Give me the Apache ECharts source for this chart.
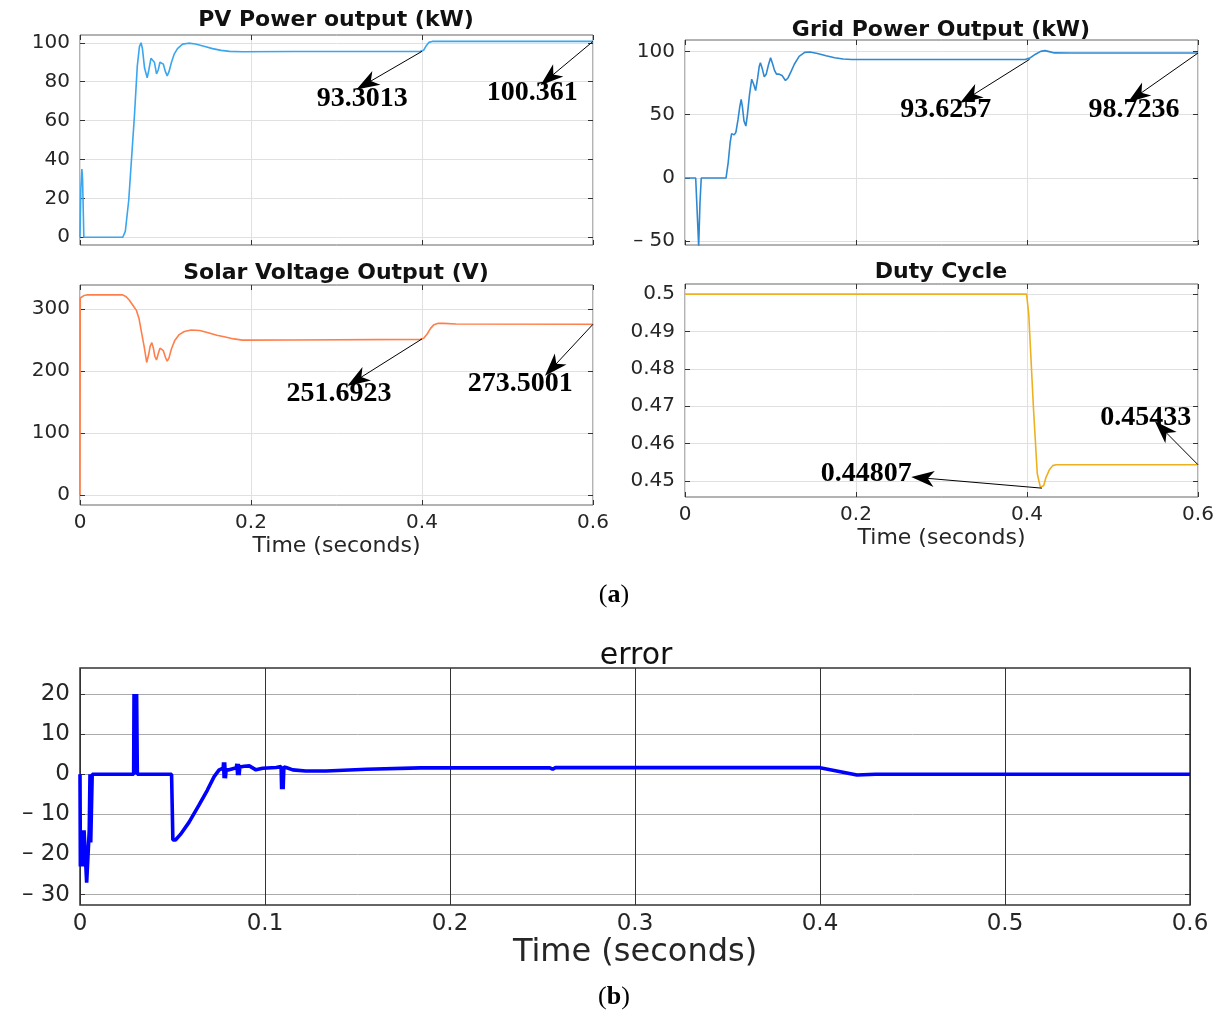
<!DOCTYPE html>
<html><head><meta charset="utf-8">
<script src="https://cdn.jsdelivr.net/npm/echarts@6/dist/echarts.min.js"></script>
<style>html,body{margin:0;padding:0;background:#fff}#c{width:1226px;height:1015px}</style>
</head><body><div id="c"></div>
<script>
// ---------- DATA ----------
const xTicks = [0, 0.2, 0.4, 0.6];
const errXTicks = [0, 0.1, 0.2, 0.3, 0.4, 0.5, 0.6];
const pvYTicks = [0, 20, 40, 60, 80, 100];
const gridYTicks = [-50, 0, 50, 100];
const voltYTicks = [0, 100, 200, 300];
const dutyYTicks = [0.45, 0.46, 0.47, 0.48, 0.49, 0.5];
const errYTicks = [-30, -20, -10, 0, 10, 20];

const titles = ['PV Power output (kW)', 'Grid Power Output (kW)', 'Solar Voltage Output (V)', 'Duty Cycle', 'error'];
const xName = 'Time (seconds)';

const pvTime  = [0,0.001,0.0022,0.003,0.0045,0.05,0.053,0.057,0.0636,0.067,0.0695,0.0714,0.073,0.0755,0.0786,0.0805,0.083,0.085,0.087,0.0895,0.0915,0.0935,0.0955,0.0975,0.1,0.102,0.104,0.107,0.11,0.114,0.12,0.127,0.135,0.145,0.155,0.165,0.175,0.19,0.25,0.398,0.402,0.405,0.408,0.412,0.6];
const pvPower = [0,25,35,30,0,0,3,19,62,88,98,100,97,87,82,86,92,93,90,84,86,90,91,89,85,83,85,90,94,97,99.3,99.8,99.4,98.2,97,96.1,95.6,95.4,95.5,95.6,96.2,98.5,100.2,100.7,100.7];

const gridTime  = [0,0.0125,0.016,0.0175,0.019,0.048,0.0505,0.0528,0.0545,0.0555,0.0575,0.0595,0.062,0.064,0.0657,0.0672,0.069,0.0712,0.073,0.0755,0.078,0.0803,0.0826,0.085,0.0868,0.0882,0.0905,0.0927,0.095,0.0975,0.1001,0.1025,0.1047,0.107,0.1102,0.1135,0.1175,0.1205,0.124,0.128,0.1335,0.14,0.146,0.155,0.165,0.175,0.185,0.195,0.398,0.404,0.41,0.416,0.421,0.426,0.432,0.45,0.6];
const gridPower = [0,0,-54,-20,0,0,12,28,35,36.5,34,36,46,56,62,56,45,41,50,66,78,74,69,79,88,91,86,80,82,89,95,90,85,82,82,81,77,79,84,90,96,99.2,99.5,98.3,96.5,95,94,93.6,93.6,95,97.8,100,100.6,99.8,98.8,98.7,98.7];

const voltTime  = [0,0.0003,0.0015,0.0025,0.0045,0.008,0.05,0.054,0.058,0.062,0.066,0.069,0.072,0.075,0.078,0.0805,0.082,0.084,0.086,0.0875,0.0895,0.0915,0.0935,0.0955,0.0975,0.1,0.102,0.104,0.107,0.111,0.116,0.122,0.13,0.14,0.15,0.16,0.17,0.18,0.19,0.25,0.398,0.402,0.406,0.41,0.414,0.419,0.425,0.44,0.6];
const voltValue = [0,318,320,315,322,323,323,320,314,306,298,285,262,240,214,228,240,246,236,224,218,228,237,240,233,222,216,221,236,250,259,264,266.5,265.5,262,258,255,252,250,250.3,251.3,253,260,269,275,277.3,277,276,275.7];

const dutyTime  = [0,0.3995,0.402,0.4077,0.412,0.4155,0.4175,0.4195,0.422,0.426,0.43,0.434,0.6];
const dutyValue = [0.5,0.5,0.4948,0.4689,0.452,0.4484,0.44807,0.4487,0.4508,0.4529,0.4541,0.45433,0.45433];

const errTime  = [0,0.0002,0.0006,0.001,0.0014,0.0018,0.0022,0.0032,0.0036,0.0042,0.0046,0.005,0.0054,0.0058,0.0062,0.0066,0.029,0.0292,0.0296,0.0299,0.0303,0.0306,0.031,0.0495,0.0502,0.0516,0.0543,0.0589,0.0643,0.0688,0.0725,0.0752,0.0774,0.0776,0.0779,0.0782,0.0786,0.079,0.0806,0.0845,0.0848,0.0852,0.0856,0.086,0.0864,0.0888,0.0915,0.0951,0.0987,0.106,0.1087,0.109,0.1094,0.1098,0.1102,0.1114,0.115,0.122,0.133,0.155,0.184,0.2,0.254,0.2555,0.257,0.4,0.42,0.43,0.6];
const errValue = [0,-23,-14,-23,-14,-23,-14,-14,-27,-27,-27,-14,0,-17,-17,0,0,20,0,20,0,20,0,0,-16.4,-16.4,-15,-12,-7.7,-4,-0.6,1.1,1.5,3,-1,3,-1,1.2,1.1,1.6,2.6,-0.2,2.6,-0.2,1.8,2,2.1,1.1,1.5,1.7,1.9,-3.7,1.9,-3.7,1.8,1.7,1.1,0.8,0.8,1.25,1.6,1.6,1.6,1.25,1.65,1.65,-0.17,0,0];

// annotations: [fromT, fromV, toT, toV]
const pvArrows   = [[0.4, 95.6, 0.335, 79], [0.6, 100.7, 0.549, 82]];
const pvLabels   = [[0.33, 71, '93.3013'], [0.529, 74.5, '100.361']];
const gridArrows = [[0.403, 93.7, 0.333, 64], [0.6, 98.7, 0.529, 65]];
const gridLabels = [[0.305, 53.5, '93.6257'], [0.525, 53.5, '98.7236']];
const voltArrows = [[0.4, 252, 0.324, 186], [0.6, 275.7, 0.553, 206]];
const voltLabels = [[0.303, 164, '251.6923'], [0.515, 179, '273.5001']];
const dutyArrows = [[0.4175, 0.44807, 0.278, 0.4508], [0.6, 0.45433, 0.559, 0.4638]];
const dutyLabels = [[0.212, 0.4519, '0.44807'], [0.539, 0.4668, '0.45433']];

// ---------- CHART ----------
const zip = (t, v) => t.map((x, i) => [x, v[i]]);
const fmtNum = v => v < 0 ? '\u2013 ' + Math.abs(v) : String(+v.toFixed(2));
const SANS = 'DejaVu Sans';
const SERIF = 'Liberation Serif';

const gridsPos = [
  {left: 80, top: 35, width: 513, height: 210},
  {left: 685, top: 40, width: 513, height: 205},
  {left: 80, top: 285, width: 513, height: 220},
  {left: 685, top: 284, width: 513, height: 213},
  {left: 80, top: 668, width: 1110, height: 237}
];
const yRanges = [[-4, 104], [-53, 109], [-16, 339], [0.4457, 0.5027], [-32.6, 26.5]];
const yTickSets = [pvYTicks, gridYTicks, voltYTicks, dutyYTicks, errYTicks];

const grid = gridsPos.map((g, i) => Object.assign({show: true, borderColor: i === 4 ? '#333' : '#666', borderWidth: i === 4 ? 1.5 : 1, backgroundColor: '#fff'}, g));

const xAxis = [], yAxis = [];
for (let i = 0; i < 5; i++) {
  const isErr = i === 4;
  const showLab = i >= 2;
  xAxis.push({
    type: 'value', gridIndex: i, min: 0, max: 0.6, interval: isErr ? 0.1 : 0.2,
    axisLine: {show: false, onZero: false},
    axisTick: {show: true, inside: true, length: 5, lineStyle: {color: '#333'}},
    axisLabel: {show: showLab, formatter: v => String(+v.toFixed(1)), fontFamily: SANS, fontSize: isErr ? 23 : 20, color: '#262626', margin: 8},
    splitLine: {show: true, lineStyle: {color: isErr ? '#333' : '#e0e0e0', width: 1}},
    name: showLab ? xName : '', nameLocation: 'middle', nameGap: isErr ? 31 : 30,
    nameTextStyle: {fontFamily: SANS, fontSize: isErr ? 32 : 22, color: '#262626'}
  });
  yAxis.push({
    type: 'value', gridIndex: i, min: yRanges[i][0], max: yRanges[i][1],
    axisLine: {show: false, onZero: false},
    axisTick: {show: true, inside: true, length: 5, customValues: yTickSets[i], lineStyle: {color: '#333'}},
    axisLabel: {customValues: yTickSets[i], formatter: fmtNum, fontFamily: SANS, fontSize: isErr ? 23 : 20, color: '#262626', margin: 10},
    splitLine: {show: true, lineStyle: {color: isErr ? '#aaa' : '#e0e0e0', width: 1}}
  });
}
for (let i = 0; i < 5; i++) {
  yAxis.push({
    type: 'value', gridIndex: i, position: 'right', min: yRanges[i][0], max: yRanges[i][1],
    axisLine: {show: false, onZero: false}, axisLabel: {show: false}, splitLine: {show: false},
    axisTick: {show: true, inside: true, length: 5, customValues: yTickSets[i], lineStyle: {color: '#333'}}
  });
  xAxis.push({
    type: 'value', gridIndex: i, position: 'top', min: 0, max: 0.6, interval: i === 4 ? 0.1 : 0.2,
    axisLine: {show: false, onZero: false}, axisLabel: {show: false}, splitLine: {show: false},
    axisTick: {show: true, inside: true, length: 5, lineStyle: {color: '#333'}}
  });
}

const ARROW = 'path://M5,0 L10,18 L5,13 L0,18 Z';
function markLine(arrows) {
  return {
    silent: true, animation: false, symbol: ['none', ARROW], symbolSize: 16,
    lineStyle: {color: '#000', width: 1, type: 'solid', opacity: 1},
    itemStyle: {color: '#000'},
    label: {show: false},
    emphasis: {disabled: true},
    data: arrows.map(a => [
      {coord: [a[0], a[1]], symbol: 'none'},
      {coord: [a[2], a[3]], symbol: ARROW, symbolSize: [16, 23], itemStyle: {color: '#000'}}
    ])
  };
}
function markPoint(labels) {
  return {
    silent: true, animation: false, symbol: 'rect', symbolSize: 1,
    itemStyle: {color: 'rgba(0,0,0,0)'},
    label: {show: true, position: 'inside', formatter: p => p.name, fontFamily: SERIF, fontWeight: 'bold', fontSize: 28, color: '#000'},
    data: labels.map(l => ({coord: [l[0], l[1]], name: l[2]}))
  };
}
function lineSeries(i, data, color, width, arrows, labels) {
  const s = {
    type: 'line', xAxisIndex: i, yAxisIndex: i, data: data, showSymbol: false, symbol: 'none',
    lineStyle: {color: color, width: width}, itemStyle: {color: color}, silent: true, animation: false, z: 3
  };
  if (arrows) s.markLine = markLine(arrows);
  if (labels) s.markPoint = markPoint(labels);
  return s;
}

const series = [
  lineSeries(0, zip(pvTime, pvPower), '#3aa6f0', 1.6, pvArrows, pvLabels),
  lineSeries(1, zip(gridTime, gridPower), '#2f89d2', 1.6, gridArrows, gridLabels),
  lineSeries(2, zip(voltTime, voltValue), '#ff7f4a', 1.6, voltArrows, voltLabels),
  lineSeries(3, zip(dutyTime, dutyValue), '#edb120', 1.6, dutyArrows, dutyLabels),
  lineSeries(4, zip(errTime, errValue), '#0000ff', 3.6, null, null)
];

const titlePos = [[336, 20, 22, 'bold'], [941, 30, 22, 'bold'], [336, 273, 22, 'bold'], [941, 272, 22, 'bold'], [636, 656, 30, 'normal']];
const graphic = titles.map((t, i) => ({
  type: 'text', x: titlePos[i][0], y: titlePos[i][1], silent: true,
  style: {text: t, align: 'center', verticalAlign: 'middle', fontFamily: SANS, fontSize: titlePos[i][2], fontWeight: titlePos[i][3], fill: '#111'}
}));
['a', 'b'].forEach((ch, k) => graphic.push({
  type: 'text', x: 614, y: k === 0 ? 595 : 997, silent: true,
  style: {text: '({b|' + ch + '})', align: 'center', verticalAlign: 'middle', fontFamily: SERIF, fontSize: 26, fill: '#000',
    rich: {b: {fontFamily: SERIF, fontSize: 26, fontWeight: 'bold', fill: '#000'}}}
}));

const chart = echarts.init(document.getElementById('c'), null, {renderer: 'canvas'});
chart.setOption({animation: false, backgroundColor: '#fff', grid, xAxis, yAxis, series, graphic});
</script>
</body></html>
